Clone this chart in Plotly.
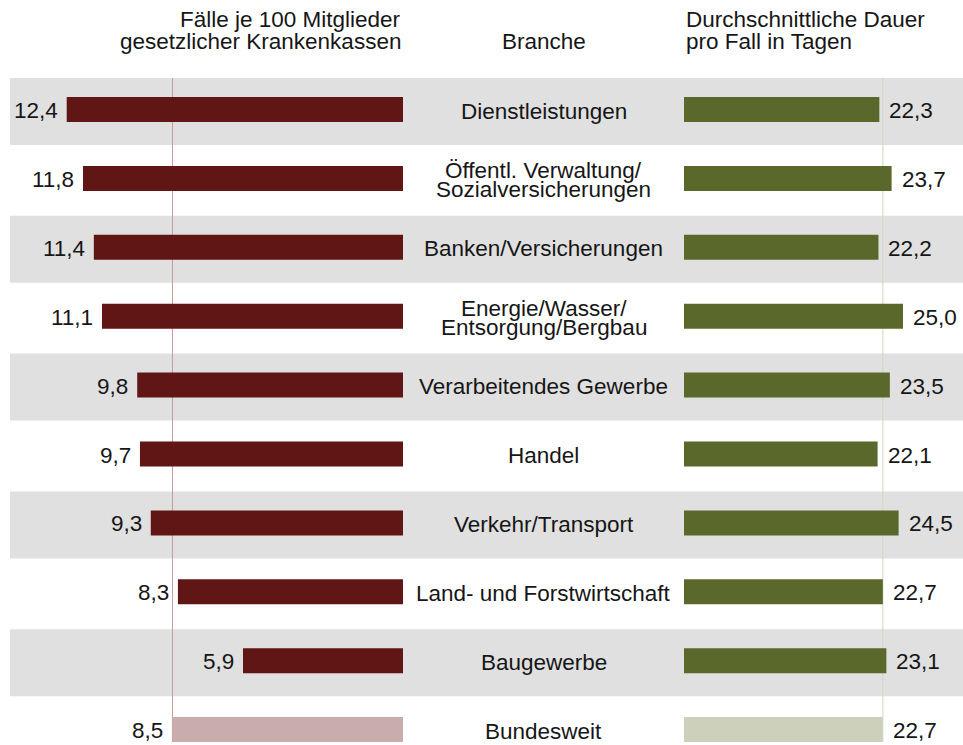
import plotly.graph_objects as go

# ---- data ----
branchen = [
    "Dienstleistungen",
    "Öffentl. Verwaltung/\nSozialversicherungen",
    "Banken/Versicherungen",
    "Energie/Wasser/\nEntsorgung/Bergbau",
    "Verarbeitendes Gewerbe",
    "Handel",
    "Verkehr/Transport",
    "Land- und Forstwirtschaft",
    "Baugewerbe",
    "Bundesweit",
]
faelle = [12.4, 11.8, 11.4, 11.1, 9.8, 9.7, 9.3, 8.3, 5.9, 8.5]
dauer = [22.3, 23.7, 22.2, 25.0, 23.5, 22.1, 24.5, 22.7, 23.1, 22.7]

header_left = ["Fälle je 100 Mitglieder", "gesetzlicher Krankenkassen"]
header_mid = "Branche"
header_right = ["Durchschnittliche Dauer", "pro Fall in Tagen"]

# ---- style ----
W, H = 963, 745
FONT = "Liberation Sans, Arial, sans-serif"
TXT = "#161616"
RED, RED_LIGHT, RED_LINE = "#611616", "#c9adad", "#c99b9b"
GRN, GRN_LIGHT, GRN_LINE = "#5b682b", "#cdd1bc", "#d3d4bd"
BAND = "#e0e0e0"
FS = 22.5

n = len(branchen)
ycat = list(range(n))
left_colors = [RED] * (n - 1) + [RED_LIGHT]
right_colors = [GRN] * (n - 1) + [GRN_LIGHT]

zero_left_px = 403
left_scale = 27.12       # px per unit
right_start_px = 684
right_scale = 8.76
row_pitch = 68.9
first_row_px = 109.5

fig = go.Figure()
fig.add_trace(go.Bar(
    x=faelle, y=ycat, orientation="h", xaxis="x", yaxis="y",
    marker=dict(color=left_colors, line=dict(width=0)),
    width=25 / row_pitch, hoverinfo="skip", showlegend=False,
))
fig.add_trace(go.Bar(
    x=dauer, y=ycat, orientation="h", xaxis="x2", yaxis="y",
    marker=dict(color=right_colors, line=dict(width=0)),
    width=25 / row_pitch, hoverinfo="skip", showlegend=False,
))

shapes = []
band_top = (78 - first_row_px) / row_pitch
band_bot = (145 - first_row_px) / row_pitch
for i in range(0, n, 2):
    if i == n - 1:
        continue
    shapes.append(dict(type="rect", xref="paper", yref="y",
                       x0=10 / W, x1=1, y0=i + band_top, y1=i + band_bot,
                       fillcolor=BAND, line=dict(width=0), layer="below"))
line_bot = (742 - first_row_px) / row_pitch
shapes.append(dict(type="line", xref="x", yref="y", x0=faelle[-1], x1=faelle[-1],
                   y0=band_top, y1=line_bot, line=dict(color=RED_LINE, width=1),
                   layer="below"))
shapes.append(dict(type="line", xref="x2", yref="y", x0=dauer[-1], x1=dauer[-1],
                   y0=band_top, y1=line_bot, line=dict(color=GRN_LINE, width=1),
                   layer="below"))

ann = []
font = dict(family=FONT, size=FS, color=TXT)
for i in range(n):
    ann.append(dict(x=faelle[i], y=i, xref="x", yref="y", xanchor="right",
                    yanchor="middle", xshift=-7, yshift=-1,
                    text=f"{faelle[i]:.1f}".replace(".", ","),
                    showarrow=False, font=font))
    ann.append(dict(x=dauer[i], y=i, xref="x2", yref="y", xanchor="left",
                    yanchor="middle", xshift=8, yshift=-1,
                    text=f"{dauer[i]:.1f}".replace(".", ","),
                    showarrow=False, font=font))
    lines = branchen[i].split("\n")
    k = len(lines)
    for j, ln in enumerate(lines):
        shift = (j - (k - 1) / 2) * 19
        ann.append(dict(x=543.5 / W, y=i + 1.5 / row_pitch, xref="paper", yref="y",
                        xanchor="center", yanchor="middle", yshift=-shift,
                        text=ln, showarrow=False, font=font))

for j, ln in enumerate(header_left):
    ann.append(dict(x=403 / W, y=1 - (20 + 21 * j) / H, xref="paper", yref="paper",
                    xanchor="right", yanchor="middle", text=ln, showarrow=False, font=font))
for j, ln in enumerate(header_right):
    ann.append(dict(x=684 / W, y=1 - (20 + 21 * j) / H, xref="paper", yref="paper",
                    xanchor="left", yanchor="middle", text=ln, showarrow=False, font=font))
ann.append(dict(x=543.5 / W, y=1 - 41 / H, xref="paper", yref="paper",
                xanchor="center", yanchor="middle", text=header_mid, showarrow=False, font=font))

fig.update_layout(
    width=W, height=H,
    margin=dict(l=0, r=0, t=0, b=0),
    paper_bgcolor="white", plot_bgcolor="white",
    barmode="overlay",
    xaxis=dict(domain=[0, zero_left_px / W], range=[zero_left_px / left_scale, 0],
               visible=False, fixedrange=True),
    xaxis2=dict(domain=[right_start_px / W, 1], range=[0, (W - right_start_px) / right_scale],
                visible=False, anchor="y", fixedrange=True),
    yaxis=dict(domain=[0, 1], range=[(H - first_row_px) / row_pitch, -first_row_px / row_pitch],
               visible=False, fixedrange=True),
    shapes=shapes, annotations=ann,
    font=dict(family=FONT),
)

fig.write_html("out.html", config={"displayModeBar": False},
               post_script="document.body.style.margin='0px';document.body.style.overflow='hidden';")
